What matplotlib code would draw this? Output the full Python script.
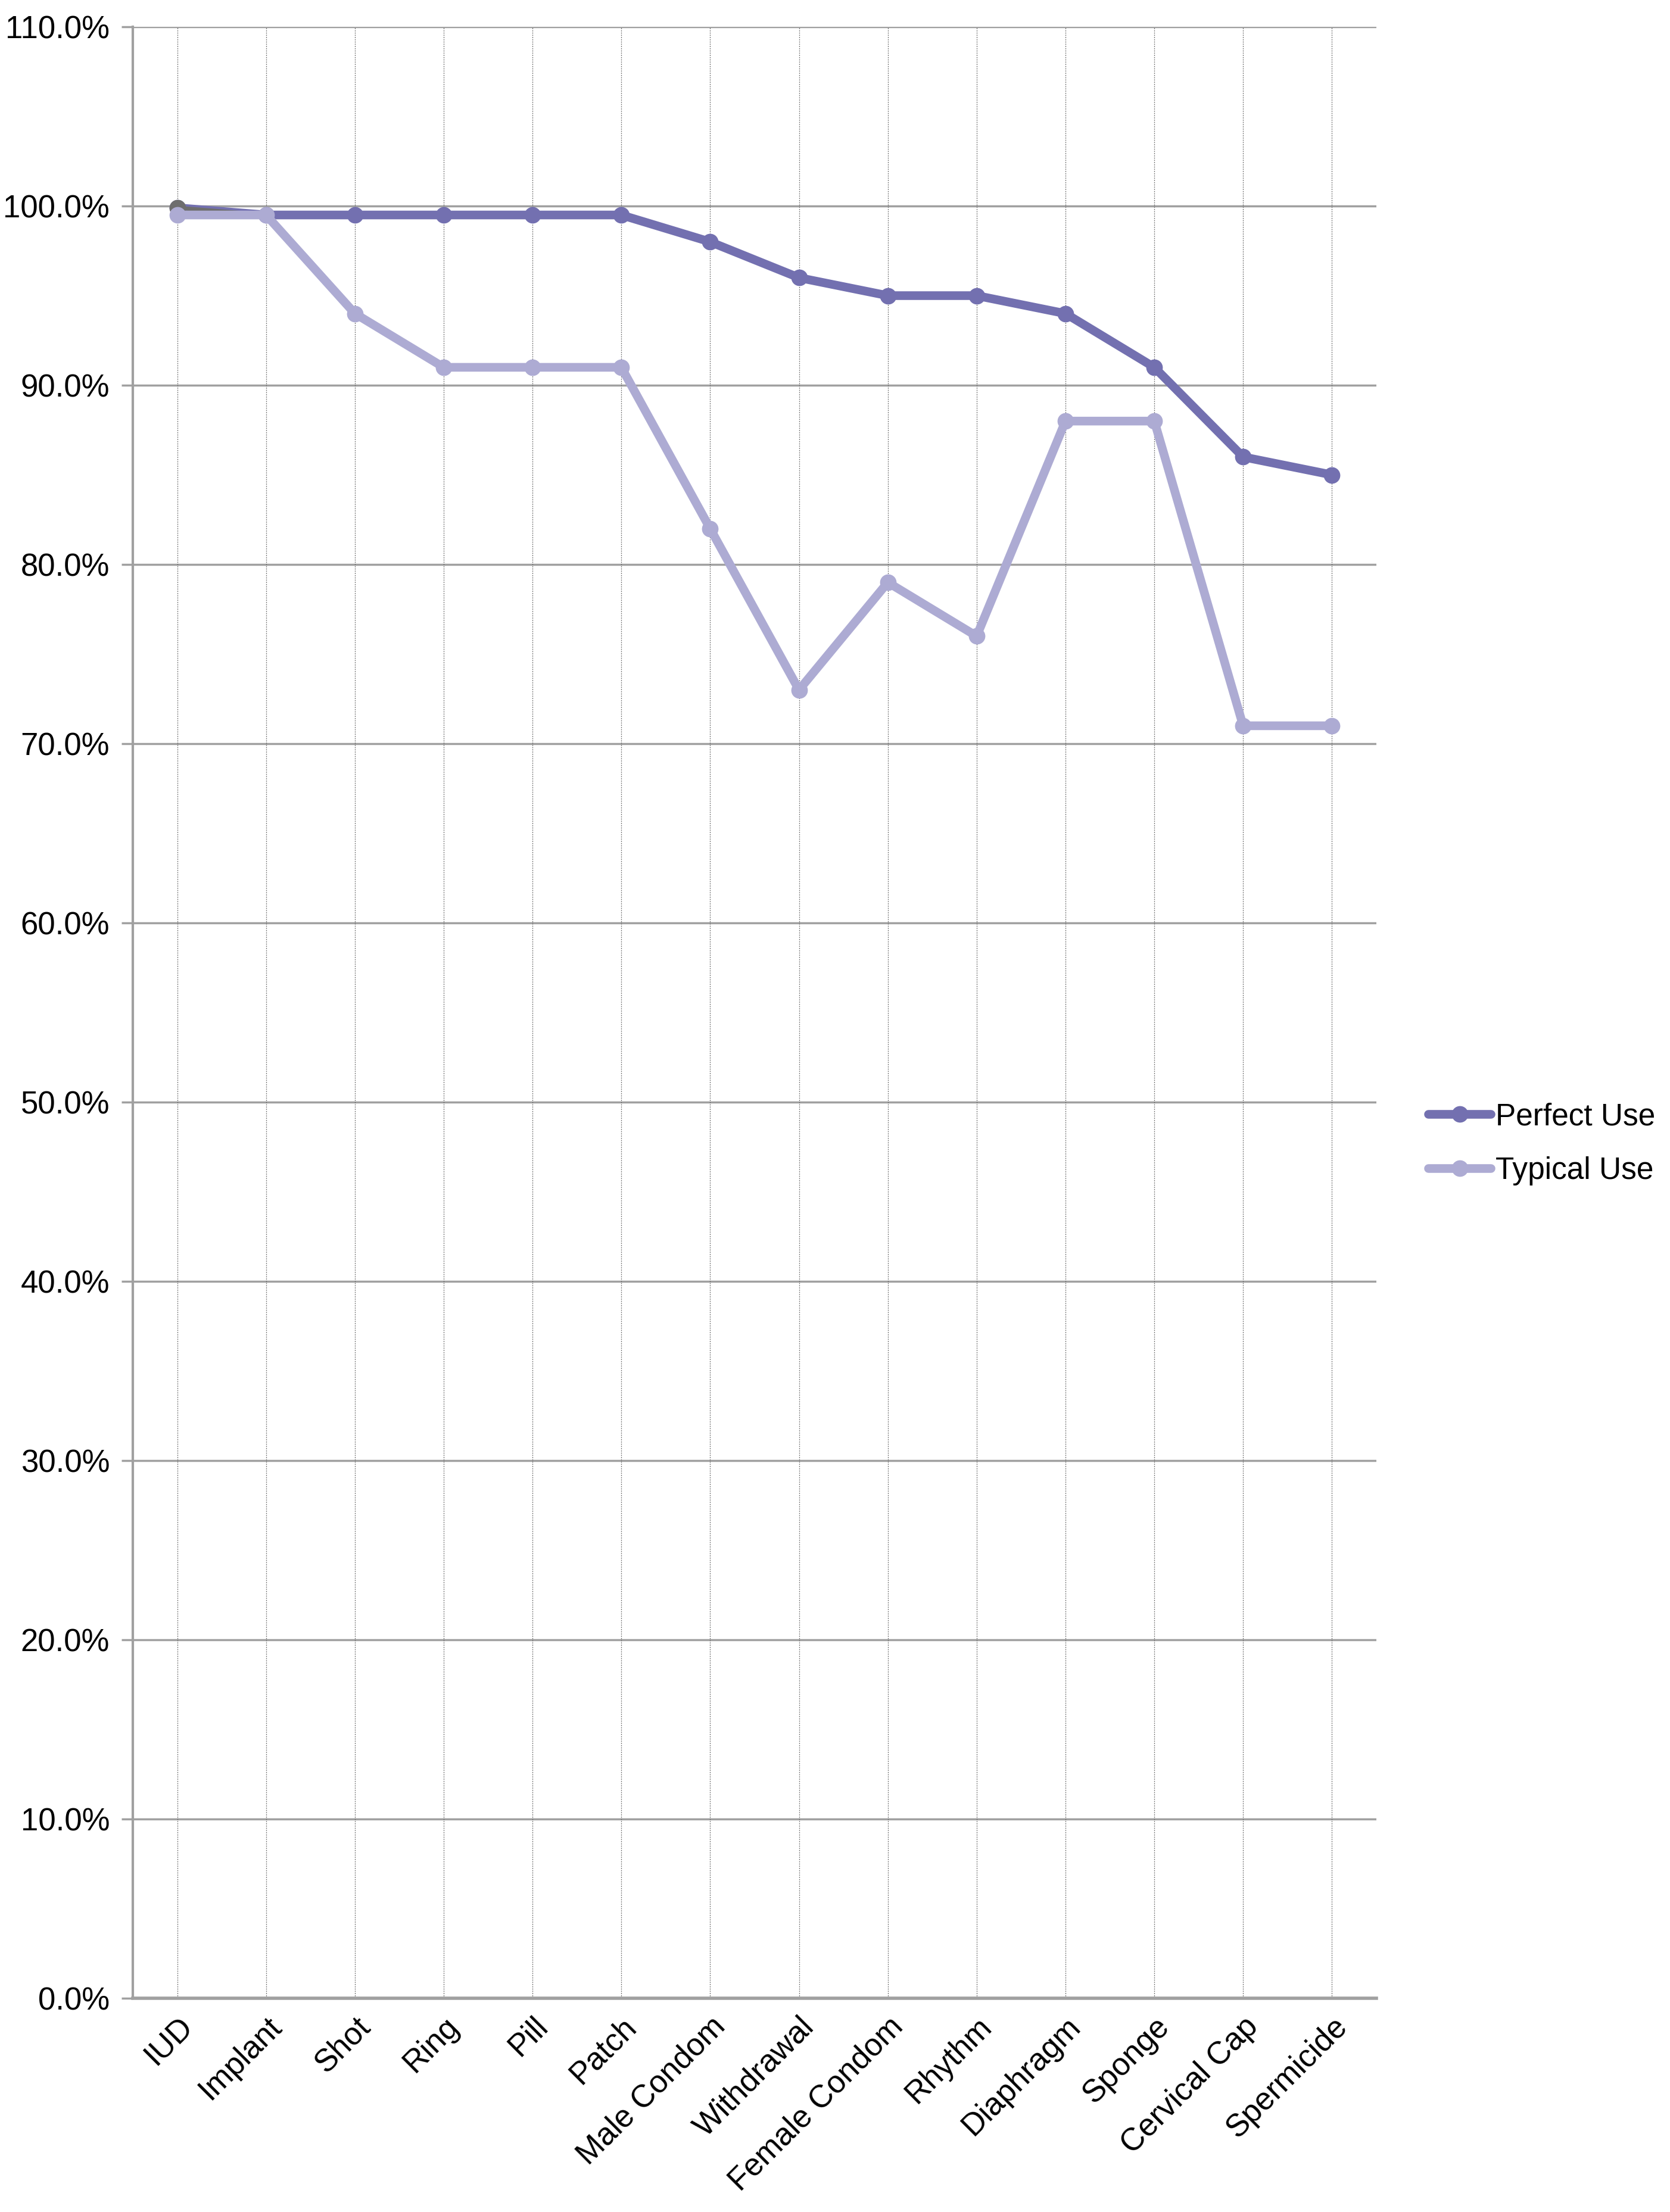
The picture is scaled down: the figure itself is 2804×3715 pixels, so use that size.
import matplotlib
matplotlib.use("Agg")
import matplotlib.pyplot as plt
from matplotlib.ticker import FuncFormatter

plt.rcParams['font.family'] = ['Liberation Sans', 'DejaVu Sans']

# dados
methods = ['IUD', 'Implant', 'Shot', 'Ring', 'Pill', 'Patch', 'Male Condom',
           'Withdrawal', 'Female Condom', 'Rhythm', 'Diaphragm', 'Sponge',
           'Cervical Cap', 'Spermicide']
perfect_use = [99.9, 99.5, 99.5, 99.5, 99.5, 99.5, 98, 96, 95, 95, 94, 91, 86, 85]
typical_use = [99.5, 99.5, 94, 91, 91, 91, 82, 73, 79, 76, 88, 88, 71, 71]
y_ticks = [0, 10, 20, 30, 40, 50, 60, 70, 80, 90, 100, 110]

perfect_color = '#7370b0'
typical_color = '#adabd3'
grid_color = '#a0a0a0'

fig = plt.figure(figsize=(28.04, 37.15), dpi=100)
ax = fig.add_axes([223 / 2804, 1 - 3356 / 3715, (2311 - 223) / 2804, (3356 - 45) / 3715])

x = list(range(len(methods)))

# grade
for t in y_ticks:
    ax.axhline(t, color=grid_color, lw=2.5, zorder=1)
for xi in x:
    ax.axvline(xi, color='#6a6a6a', lw=0.9, ls=(0, (1.5, 1.5)), zorder=1)

# linhas
ax.plot(x, perfect_use, color=perfect_color, lw=10.5, marker='o', ms=19,
        solid_capstyle='round', zorder=3, label='Perfect Use')
ax.plot(x[:2], perfect_use[:2], color='#6e6e6e', lw=5, zorder=3.5)
ax.plot(x[0], perfect_use[0], color='#6e6e6e', marker='o', ms=19, zorder=3.5)
ax.plot(x, typical_use, color=typical_color, lw=10.5, marker='o', ms=19,
        solid_capstyle='round', zorder=4, label='Typical Use')

ax.set_xlim(-0.5, 13.5)
ax.set_ylim(0, 110)
ax.set_yticks(y_ticks)
ax.yaxis.set_major_formatter(FuncFormatter(lambda v, p: '%.1f%%' % v))
ax.set_xticks(x)
ax.set_xticklabels(methods, rotation=45, ha='right', rotation_mode='anchor',
                   fontsize=38)
ax.tick_params(axis='y', labelsize=38, length=14, width=2.5, color=grid_color, pad=14)
ax.tick_params(axis='x', length=0, pad=16)

for s in ['top', 'right']:
    ax.spines[s].set_visible(False)
ax.spines['left'].set_color(grid_color)
ax.spines['left'].set_linewidth(3)
ax.spines['bottom'].set_color(grid_color)
ax.spines['bottom'].set_linewidth(4)
ax.spines['bottom'].set_zorder(2)

ax.legend(loc='center left', bbox_to_anchor=(2398 / 2804, 1 - 1921 / 3715),
          bbox_transform=fig.transFigure, frameon=False, fontsize=37,
          handlelength=2.05, handletextpad=0.15, labelspacing=0.8,
          borderpad=0, borderaxespad=0)

fig.savefig('out.png', dpi=100, facecolor='white')
